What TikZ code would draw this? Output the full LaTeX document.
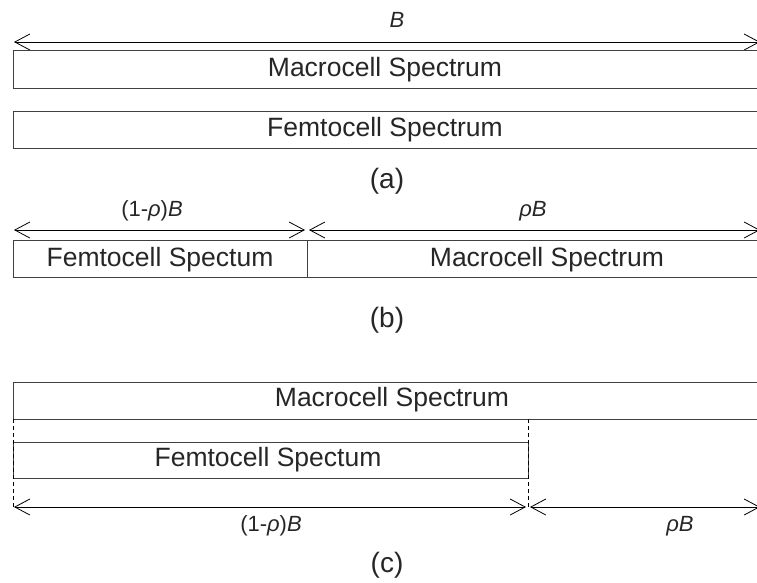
\documentclass[tikz,border=0pt]{standalone}
\usepackage{fontspec}
\setmainfont{Liberation Sans}
\usetikzlibrary{arrows.meta}
\begin{document}
\begin{tikzpicture}[x=1pt,y=-1pt,
  boxline/.style={draw=black!75,line width=0.9pt},
  dimline/.style={draw=black,line width=0.8pt,{Straight Barb[length=15pt,width=16pt,line width=0.8pt]}-{Straight Barb[length=15pt,width=16pt,line width=0.8pt]}},
  guide/.style={draw=black,line width=0.8pt,dash pattern=on 4pt off 3pt},
  boxtext/.style={font=\fontsize{26.5}{30}\selectfont,inner sep=0pt,text=black!85},
  dimtext/.style={font=\fontsize{22}{26}\selectfont,inner sep=0pt,text=black!85},
  captext/.style={font=\fontsize{28}{32}\selectfont,inner sep=0pt,text=black!85}]
\useasboundingbox (0,0) rectangle (757,582);
% ---------- (a)
\coordinate (aL) at (14,42);
\coordinate (aR) at (760,42);
\draw[dimline] (aL) -- (aR);
\node[dimtext] (aB) at (397,20) {\textit{B}};
\draw[boxline] (757,50) -- (13,50) -- (13,88) -- (757,88);
\node[boxtext] (aMacro) at (385,70) {Macrocell Spectrum};
\draw[boxline] (757,111) -- (13,111) -- (13,148) -- (757,148);
\node[boxtext] (aFemto) at (385,130) {Femtocell Spectrum};
\node[captext] (capa) at (387,181) {(a)};
% ---------- (b)
\coordinate (bL) at (14,230);
\coordinate (bM1) at (305,230);
\coordinate (bM2) at (309,230);
\coordinate (bR) at (760,230);
\draw[dimline] (bL) -- (bM1);
\draw[dimline] (bM2) -- (bR);
\node[dimtext] (b1) at (152,211) {(1-\textit{ρ})\textit{B}};
\node[dimtext] (b2) at (533,211) {\textit{ρB}};
\draw[boxline] (757,240) -- (13,240) -- (13,277) -- (757,277);
\draw[boxline] (307,240) -- (307,277);
\node[boxtext] (bFemto) at (160,260) {Femtocell Spectum};
\node[boxtext] (bMacro) at (547,260) {Macrocell Spectrum};
\node[captext] (capb) at (387,320) {(b)};
% ---------- (c)
\draw[boxline] (757,382) -- (13,382) -- (13,419) -- (757,419);
\node[boxtext] (cMacro) at (392,400) {Macrocell Spectrum};
\draw[boxline] (13,442) rectangle (528,478);
\node[boxtext] (cFemto) at (268,460) {Femtocell Spectum};
\coordinate (g1t) at (13,419);
\coordinate (g1b) at (13,507);
\coordinate (g2t) at (528,419);
\coordinate (g2b) at (528,507);
\draw[guide] (g1t) -- (g1b);
\draw[guide] (g2t) -- (g2b);
\coordinate (cL) at (14,507);
\coordinate (cM1) at (526,507);
\coordinate (cM2) at (530,507);
\coordinate (cR) at (760,507);
\draw[dimline] (cL) -- (cM1);
\draw[dimline] (cM2) -- (cR);
\node[dimtext] (c1) at (271,526) {(1-\textit{ρ})\textit{B}};
\node[dimtext] (c2) at (680,526) {\textit{ρB}};
\node[captext] (capc) at (387,565) {(c)};
\end{tikzpicture}
\end{document}
